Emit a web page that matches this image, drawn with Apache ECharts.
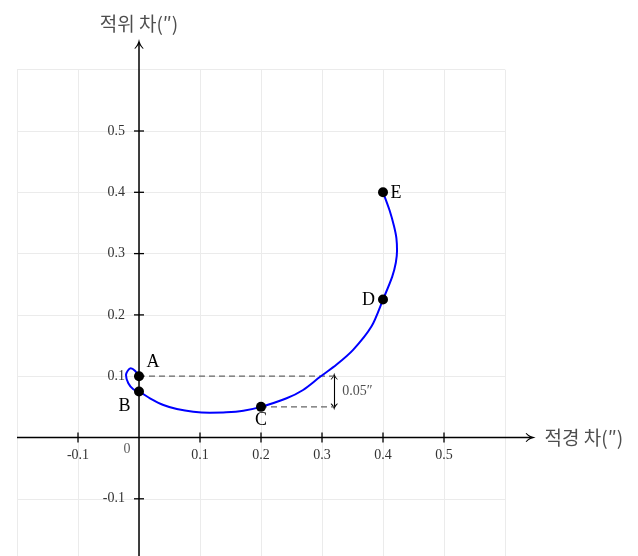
<!DOCTYPE html>
<html>
<head>
<meta charset="utf-8">
<script src="https://cdn.jsdelivr.net/npm/echarts@6/dist/echarts.min.js"></script>
<style>
  html, body { margin: 0; padding: 0; background: #fff; }
  #chart { width: 638px; height: 556px; }
</style>
</head>
<body>
<div id="chart"></div>
<script>
// Apparent path of the object (right ascension / declination offsets, arcsec), from E to A
const pathX = [0.4, 0.411, 0.418, 0.422, 0.423, 0.421, 0.415, 0.4, 0.381, 0.351, 0.324, 0.297, 0.269, 0.242, 0.2, 0.171, 0.143, 0.116, 0.089, 0.062, 0.040, 0.018, 0, -0.0093, -0.0175, -0.0213, -0.0136, -0.0066, 0];
const pathY = [0.4, 0.37, 0.345, 0.325, 0.305, 0.285, 0.262, 0.225, 0.181, 0.143, 0.119, 0.099, 0.0775, 0.064, 0.05, 0.0437, 0.041, 0.0405, 0.042, 0.0465, 0.053, 0.064, 0.075, 0.0786, 0.0884, 0.102, 0.113, 0.109, 0.1];

// Marked positions
const pointNames = ['A', 'B', 'C', 'D', 'E'];
const pointX = [0, 0, 0.2, 0.4, 0.4];
const pointY = [0.1, 0.075, 0.05, 0.225, 0.4];

// Guide lines and the 0.05" offset between A and C
const guideEndX = 0.32;
const offsetLabel = '0.05″';

// Axis ticks and labels
const xTicks = [-0.1, 0.1, 0.2, 0.3, 0.4, 0.5];
const xTickLabels = ['-0.1', '0.1', '0.2', '0.3', '0.4', '0.5'];
const yTicks = [-0.1, 0.1, 0.2, 0.3, 0.4, 0.5];
const yTickLabels = ['-0.1', '0.1', '0.2', '0.3', '0.4', '0.5'];
const originLabel = '0';
const xAxisName = '적경 차(″)';
const yAxisName = '적위 차(″)';
const axisStart = -0.2;
const axisTip = 0.642;

// ---- styling ----
const serif = 'Liberation Serif';
const hangul = 'Noto Sans CJK KR';
const arrowPath = 'path://M0,0 C0.8,3.5 2.6,6.6 5.6,9 L5,9.8 C3,8.4 1.2,6.8 0,5 C-1.2,6.8 -3,8.4 -5,9.8 L-5.6,9 C-2.6,6.6 -0.8,3.5 0,0 Z';
const labelOffsets = { A: [14, -14], B: [-14.5, 15], C: [0, 13.5], D: [-14.5, 1], E: [13, 1] };
const tickLabelStyle = { fontFamily: serif, fontSize: 14, color: '#333' };
const solidBlack = { color: '#000', opacity: 1 };

const chart = echarts.init(document.getElementById('chart'), null, { renderer: 'canvas' });

const option = {
  animation: false,
  backgroundColor: '#fff',
  grid: { left: 17, right: 133, top: 69.7, bottom: -4.1, containLabel: false, outerBoundsMode: 'none' },
  xAxis: {
    type: 'value', min: -0.2, max: 0.6, interval: 0.1,
    axisLine: { show: false }, axisTick: { show: false }, axisLabel: { show: false },
    splitLine: { show: true, lineStyle: { color: '#ebebeb', width: 1 } }
  },
  yAxis: {
    type: 'value', min: -0.2, max: 0.6, interval: 0.1,
    axisLine: { show: false }, axisTick: { show: false }, axisLabel: { show: false },
    splitLine: { show: true, lineStyle: { color: '#ebebeb', width: 1 } }
  },
  series: [
    {
      // both axis lines, running past the plot area
      type: 'custom', silent: true, z: 3, clip: false,
      data: [[axisStart, 0, axisTip, 0], [0, axisStart, 0, axisTip]],
      renderItem: function (params, api) {
        const p1 = api.coord([api.value(0), api.value(1)]);
        const p2 = api.coord([api.value(2), api.value(3)]);
        return {
          type: 'line',
          shape: { x1: p1[0], y1: p1[1], x2: p2[0], y2: p2[1] },
          style: { stroke: '#000', lineWidth: 1.5 }
        };
      }
    },
    {
      // arrow heads at the axis ends
      type: 'scatter', silent: true, z: 3, clip: false,
      symbol: arrowPath, symbolSize: [9, 10],
      itemStyle: solidBlack,
      data: [
        { value: [axisTip, 0], symbolRotate: -90 },
        { value: [0, axisTip], symbolRotate: 0 }
      ]
    },
    {
      // x ticks with their labels
      type: 'scatter', silent: true, z: 4, clip: false,
      symbol: 'rect', symbolSize: [1.3, 10],
      itemStyle: solidBlack,
      data: xTicks.map((v, i) => ({ value: [v, 0], name: xTickLabels[i] })),
      label: Object.assign({ show: true, position: 'inside', offset: [0, 18], formatter: '{b}' }, tickLabelStyle)
    },
    {
      // y ticks with their labels
      type: 'scatter', silent: true, z: 4, clip: false,
      symbol: 'rect', symbolSize: [10, 1.3],
      itemStyle: solidBlack,
      data: yTicks.map((v, i) => ({ value: [0, v], name: yTickLabels[i] })),
      label: Object.assign({ show: true, position: 'left', distance: 9, formatter: '{b}' }, tickLabelStyle)
    },
    {
      // origin label and axis titles
      type: 'scatter', silent: true, z: 4, clip: false,
      symbolSize: 0,
      data: [
        { value: [0, 0], name: originLabel,
          label: Object.assign({ position: 'inside', offset: [-12, 12] }, tickLabelStyle) },
        { value: [axisTip, 0], name: xAxisName,
          label: { position: 'right', distance: 14, fontFamily: hangul, fontSize: 19, color: '#222' } },
        { value: [0, axisTip], name: yAxisName,
          label: { position: 'top', distance: 11, fontFamily: hangul, fontSize: 19, color: '#222' } }
      ],
      label: { show: true, formatter: '{b}' }
    },
    {
      // dashed guides from A and C
      type: 'line', silent: true, z: 5, symbol: 'none',
      lineStyle: { color: '#666', width: 1.2, type: [6, 4] },
      data: [[pointX[0], pointY[0]], [guideEndX, pointY[0]]]
    },
    {
      type: 'line', silent: true, z: 5, symbol: 'none',
      lineStyle: { color: '#666', width: 1.2, type: [6, 4] },
      data: [[pointX[2], pointY[2]], [guideEndX, pointY[2]]]
    },
    {
      // vertical offset arrow and its label
      type: 'scatter', silent: true, z: 6, symbolSize: 0,
      data: [[guideEndX, (pointY[0] + pointY[2]) / 2]],
      label: {
        show: true, position: 'right', distance: 8,
        formatter: offsetLabel, fontFamily: serif, fontSize: 14, color: '#222'
      },
      markLine: {
        silent: true, animation: false,
        symbol: [arrowPath, arrowPath], symbolSize: [7, 7],
        lineStyle: { color: '#000', width: 1.1, type: 'solid' },
        label: { show: false },
        data: [[{ coord: [guideEndX, pointY[2]] }, { coord: [guideEndX, pointY[0]] }]]
      }
    },
    {
      type: 'line', silent: true, z: 7, symbol: 'none',
      smooth: 0.3,
      lineStyle: { color: '#0000ff', width: 2 },
      data: pathX.map((x, i) => [x, pathY[i]])
    },
    {
      type: 'scatter', silent: true, z: 8,
      symbol: 'circle', symbolSize: 10,
      itemStyle: solidBlack,
      data: pointNames.map((n, i) => ({
        name: n,
        value: [pointX[i], pointY[i]],
        label: { offset: labelOffsets[n] }
      })),
      label: {
        show: true, position: 'inside', formatter: '{b}',
        fontFamily: serif, fontSize: 18, color: '#000',
        align: 'center', verticalAlign: 'middle'
      }
    }
  ]
};

chart.setOption(option);
</script>
</body>
</html>
